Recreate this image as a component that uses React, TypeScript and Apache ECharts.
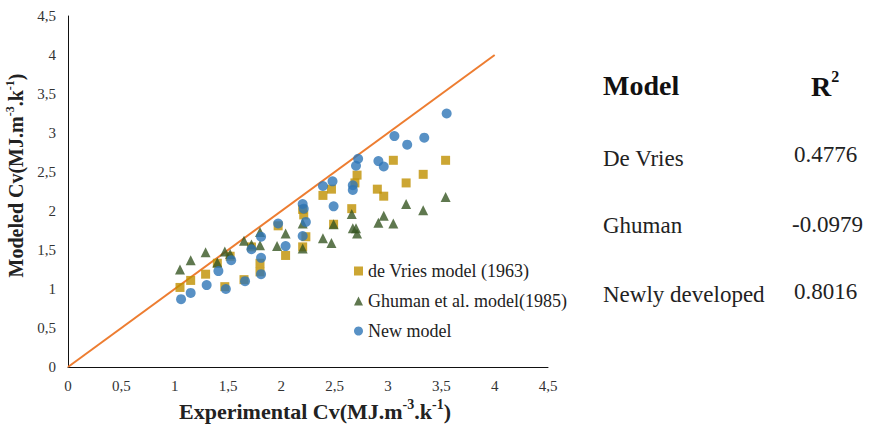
import React, { useEffect, useRef } from "react";
import * as echarts from "echarts";

const deVries: [number, number][] = [
  [1.05, 1.02], [1.15, 1.11], [1.29, 1.19], [1.40, 1.33], [1.47, 1.03], [1.52, 1.42],
  [1.65, 1.12], [1.72, 1.54], [1.80, 1.33], [1.80, 1.22], [1.97, 1.81], [2.04, 1.43],
  [2.20, 2.02], [2.21, 1.95], [2.20, 1.54], [2.23, 1.67], [2.39, 2.20], [2.47, 2.28],
  [2.49, 1.83], [2.66, 2.03], [2.69, 2.36], [2.71, 2.46], [2.90, 2.28], [2.96, 2.19],
  [3.05, 2.65], [3.17, 2.36], [3.33, 2.47], [3.54, 2.65],
];

const ghuman: [number, number][] = [
  [1.05, 1.25], [1.15, 1.37], [1.29, 1.47], [1.40, 1.34], [1.47, 1.48], [1.52, 1.45],
  [1.65, 1.62], [1.72, 1.57], [1.80, 1.73], [1.80, 1.56], [1.96, 1.55], [2.04, 1.71],
  [2.20, 1.84], [2.20, 1.52], [2.39, 1.65], [2.47, 1.59], [2.49, 1.83], [2.66, 1.96],
  [2.67, 1.78], [2.70, 1.78], [2.71, 1.71], [2.91, 1.85], [2.96, 1.94], [3.05, 1.84],
  [3.17, 2.09], [3.33, 2.01], [3.54, 2.18],
];

const newModel: [number, number][] = [
  [1.06, 0.87], [1.15, 0.95], [1.30, 1.05], [1.41, 1.23], [1.48, 1.00], [1.53, 1.37],
  [1.66, 1.10], [1.72, 1.51], [1.81, 1.67], [1.81, 1.40], [1.81, 1.19], [1.97, 1.84],
  [2.04, 1.55], [2.20, 2.09], [2.21, 2.03], [2.23, 1.86], [2.20, 1.68], [2.39, 2.32],
  [2.48, 2.38], [2.49, 2.06], [2.67, 2.33], [2.67, 2.27], [2.70, 2.58], [2.72, 2.67],
  [2.91, 2.64], [2.96, 2.57], [3.06, 2.96], [3.18, 2.85], [3.34, 2.94], [3.55, 3.25],
];

const identityLine: [number, number][] = [[0, 0], [4, 4]];

const seriesNames = ["de Vries model (1963)", "Ghuman et al. model(1985)", "New model"];

const tableModels = ["De Vries", "Ghuman", "Newly developed"];
const tableR2 = ["0.4776", "-0.0979", "0.8016"];

const FONT = "Liberation Serif";

function titleRich(size: number) {
  return {
    b: { fontFamily: FONT, fontWeight: "bold", fontSize: size, color: "#222", lineHeight: size + 5 },
    s: { fontFamily: FONT, fontWeight: "bold", fontSize: Math.round(size * 0.62), color: "#222", verticalAlign: "top", lineHeight: size + 5 },
  };
}

export default function App() {
  const ref = useRef<HTMLDivElement>(null);
  useEffect(() => {
    document.body.style.margin = "0";
    const chart = echarts.init(ref.current!, null, { renderer: "svg" });
    const rowY = [158, 225, 294];
    const r2Y = [154, 224, 291];
    const graphics: any[] = [
      {
        type: "text",
        x: 603,
        y: 85,
        style: { text: "Model", fontFamily: FONT, fontWeight: "bold", fontSize: 28, fill: "#111", verticalAlign: "middle" },
      },
      {
        type: "text",
        x: 811,
        y: 68,
        style: {
          text: "{r|R}{s|2}",
          rich: {
            r: { fontFamily: FONT, fontWeight: "bold", fontSize: 28, fill: "#111", lineHeight: 32, verticalAlign: "bottom" },
            s: { fontFamily: FONT, fontWeight: "bold", fontSize: 16, fill: "#111", lineHeight: 32, verticalAlign: "top" },
          },
        },
      },
    ];
    tableModels.forEach((m, i) => {
      graphics.push({
        type: "text",
        x: 603,
        y: rowY[i],
        style: { text: m, fontFamily: FONT, fontSize: 23, fill: "#222", verticalAlign: "middle" },
      });
      graphics.push({
        type: "text",
        x: tableR2[i].startsWith("-") ? 792 : 794,
        y: r2Y[i],
        style: { text: tableR2[i], fontFamily: FONT, fontSize: 23, fill: "#222", verticalAlign: "middle" },
      });
    });

    chart.setOption({
      animation: false,
      backgroundColor: "#fff",
      grid: { left: 68, right: 334, top: 16, bottom: 59, containLabel: false, outerBoundsMode: "none" },
      legend: {
        data: seriesNames,
        orient: "vertical",
        left: 349,
        top: 257,
        itemGap: 12,
        itemWidth: 9,
        itemHeight: 9,
        textStyle: { fontFamily: FONT, fontSize: 18, color: "#222" },
      },
      xAxis: {
        type: "value",
        min: 0,
        max: 4.5,
        interval: 0.5,
        splitLine: { show: false },
        axisTick: { show: false },
        axisLine: { show: true, lineStyle: { color: "#111", width: 1 } },
        axisLabel: {
          fontFamily: FONT,
          fontSize: 15,
          color: "#333",
          margin: 11,
          formatter: (v: number) => String(v).replace(".", ","),
        },
        name: "{b|Experimental Cv(MJ.m}{s|-3}{b|.k}{s|-1}{b|)}",
        nameLocation: "middle",
        nameGap: 30,
        nameTextStyle: { rich: titleRich(22), padding: [0, 0, 0, 14] },
      },
      yAxis: {
        type: "value",
        min: 0,
        max: 4.5,
        interval: 0.5,
        splitLine: { show: false },
        axisTick: { show: false },
        axisLine: { show: true, lineStyle: { color: "#111", width: 1 } },
        axisLabel: {
          fontFamily: FONT,
          fontSize: 15,
          color: "#333",
          margin: 12,
          formatter: (v: number) => String(v).replace(".", ","),
        },
        name: "{b|Modeled Cv(MJ.m}{s|-3}{b|.k}{s|-1}{b|)}",
        nameLocation: "middle",
        nameRotate: 90,
        nameGap: 39,
        nameTextStyle: { rich: titleRich(20), padding: [0, 0, 0, 32] },
      },
      series: [
        {
          type: "line",
          data: identityLine,
          showSymbol: false,
          symbol: "none",
          lineStyle: { color: "#ED7D31", width: 2 },
          silent: true,
          z: 1,
        },
        {
          name: seriesNames[0],
          type: "scatter",
          data: deVries,
          symbol: "rect",
          symbolSize: 9,
          itemStyle: { color: "#BF9000" },
          z: 2,
        },
        {
          name: seriesNames[1],
          type: "scatter",
          data: ghuman,
          symbol: "triangle",
          symbolSize: 10,
          itemStyle: { color: "#375623" },
          z: 3,
        },
        {
          name: seriesNames[2],
          type: "scatter",
          data: newModel,
          symbol: "circle",
          symbolSize: 10,
          itemStyle: { color: "#2E75B6" },
          z: 4,
        },
      ],
      graphic: graphics,
    });
    return () => chart.dispose();
  }, []);
  return <div ref={ref} style={{ width: 882, height: 426 }} />;
}
